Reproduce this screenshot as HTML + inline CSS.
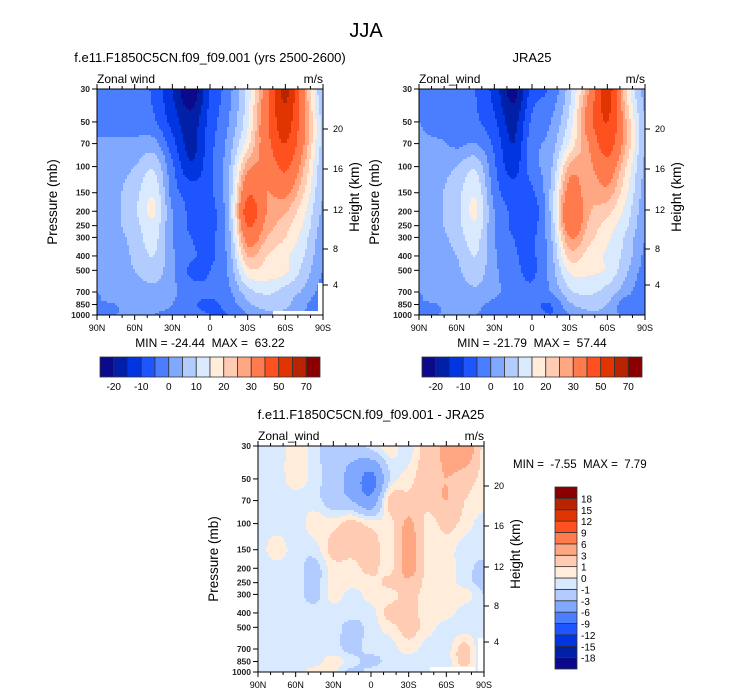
<!DOCTYPE html>
<html><head><meta charset="utf-8">
<style>
html,body{margin:0;padding:0;background:#fff;}
svg{display:block;font-family:"Liberation Sans",Arial,sans-serif;}
text{white-space:pre;}
</style></head>
<body>
<svg id="fig" width="733" height="696" viewBox="0 0 733 696" xmlns="http://www.w3.org/2000/svg">
<text x="366" y="37" font-size="20" text-anchor="middle">JJA</text>
</svg>
<script>
// ---------- data ----------
const lats = [90, 75, 60, 45, 30, 15, 0, -15, -30, -45, -60, -75, -90];
const pressures = [30, 50, 70, 100, 150, 200, 250, 300, 400, 500, 700, 850, 1000];
const modelU = [
[-2,-2,-3,-6,-15,-24,-10,-2,12,35,63,30,5],
[-3,-2,-2,-4,-12,-18,-8,0,14,38,55,32,8],
[1,1,1,2,-8,-17,-7,2,18,36,50,30,8],
[2,3,5,9,-4,-14,-6,4,28,32,42,25,6],
[2,4,8,14,-2,-7,-6,5,38,30,32,20,5],
[2,4,9,16,0,-6,-7,5,45,30,26,16,4],
[2,4,8,13,0,-6,-7,4,40,28,22,14,3],
[1,3,7,12,0,-5,-6,3,34,25,20,12,2],
[1,2,6,10,1,-4,-6,2,25,20,16,10,1],
[1,2,5,8,1,-6,-5,1,18,18,16,8,0],
[0,1,2,3,1,-3,-4,-1,8,11,8,4,-2],
[0,0,1,1,0,-4,-6,-3,4,7,6,1,-4],
[0,0,0,0,-1,-3,-5,-5,0,4,4,0,-3]];
const jraU = [
[-2,-2,-3,-5,-12,-22,-8,-4,8,30,55,20,3],
[0,-3,-3,-4,-9,-17,-4,0,12,35,50,25,5],
[1,1,-1,0,-6,-15,-2,2,16,30,45,25,5],
[2,3,5,9,-4,-12,-2,4,26,28,36,20,4],
[2,4,8,14,-2,-8,-6,6,34,26,28,16,3],
[2,4,8,16,0,-6,-8,6,38,26,22,13,2],
[2,4,8,14,0,-6,-7,5,36,24,18,11,1],
[1,3,7,12,0,-5,-6,4,30,22,16,9,0],
[1,2,5,10,1,-4,-6,3,22,18,14,8,-1],
[1,2,4,8,1,-3,-6,2,16,16,14,6,-2],
[0,1,2,4,1,-2,-4,0,9,11,8,2,-4],
[0,0,1,1,-1,-2,-4,-5,4,7,5,-3,-2],
[0,0,0,0,-1,-2,-2,-5,0,4,3,-2,-3]];
const diffU = [
[-0.5,-0.5,0.5,-0.5,-2,-2,-0.5,0.5,-0.5,2,3.5,5,0.5],
[-0.5,-0.5,0.5,-0.5,-2,-4,-7,-1,0.5,2,3,2,0.5],
[-0.5,-0.5,-0.5,-0.5,-2,-3,-5,1.5,1.5,1.5,3,1,0.5],
[-0.5,-0.5,-0.5,0.5,0.5,1.5,0.5,0.5,3.5,0.5,1.5,0.5,-0.5],
[-0.5,0.5,-0.5,-0.5,1.5,1.5,1.8,0.5,4,0.5,0.5,-0.5,-0.5],
[-0.5,-0.5,-0.5,-1.5,0.5,0.5,1.5,0.5,4,0.5,0.5,-0.5,-1.5],
[-0.5,-0.5,-0.5,-1.5,0.5,0.5,0.5,1.5,2.5,0.5,0.5,-0.5,-1.5],
[-0.5,-0.5,-0.5,-1.5,0.5,-0.5,0.5,0.5,1.5,0.5,0.5,0.5,-1],
[-0.5,-0.5,-0.5,-0.5,-0.5,-0.5,-0.5,1.5,1.5,0.5,0.5,-0.5,-0.5],
[-0.5,-0.5,-0.5,-0.5,-0.5,-1.5,-0.5,0.5,1.5,0.5,-0.5,-0.5,-0.5],
[-0.5,-0.5,-0.5,-0.5,-0.5,-1.5,-0.5,-0.5,0.5,-0.5,-0.5,1.5,-1.5],
[-0.5,-0.5,-0.5,-0.5,0.5,-0.5,-1.5,-0.5,-0.5,-0.5,-0.5,1.5,-1.5],
[-0.5,-0.5,-0.5,0.5,0.3,-1.5,-0.5,-0.5,-0.5,-0.5,-0.5,0.5,-0.5]];
const levels = [-20,-15,-10,-5,0,5,10,15,20,25,30,40,50,60,70];
const levelLabels = ["-20","-10","0","10","20","30","50","70"];
const diffLevels = [-18,-15,-12,-9,-6,-3,-1,0,1,3,6,9,12,15,18];
const pressureTicks = [30,50,70,100,150,200,250,300,400,500,700,850,1000];
const heightTicks = [20,16,12,8,4];
const latTicks = [90,60,30,0,-30,-60,-90];
const latTickLabels = ["90N","60N","30N","0","30S","60S","90S"];
const palette = ["#0a0a8a","#0020a8","#0035e0","#1e55ff","#4a7eff","#80a8ff","#b3ccff","#d9eaff","#ffecda","#ffcbb3","#ffa682","#ff7a4d","#ff5020","#e03500","#b82400","#8a0000"];

const NS = "http://www.w3.org/2000/svg";
const svg = document.getElementById('fig');
function mk(tag, attrs, parent){const e=document.createElementNS(NS,tag);for(const k in attrs)e.setAttribute(k,attrs[k]);(parent||svg).appendChild(e);return e;}
function txt(s, attrs, parent){const e=mk('text',attrs,parent);e.textContent=s;return e;}

const LP = Math.log(1000/30);
const heightFrac = {20:40/226,16:80/226,12:121/226,8:160/226,4:196/226};

function binOf(v, lv){let b=0;for(let k=0;k<lv.length;k++){if(v>=lv[k])b=k+1;}return b;}
function cr(p0,p1,p2,p3,t){return 0.5*((2*p1)+(-p0+p2)*t+(2*p0-5*p1+4*p2-p3)*t*t+(-p0+3*p1-3*p2+p3)*t*t*t);}
function sample(grid, lat, p){
  let i=0; while(i<lats.length-2 && lat<lats[i+1]) i++;
  const fx=(lats[i]-lat)/(lats[i]-lats[i+1]);
  const lp=Math.log(p);
  let j=0; while(j<pressures.length-2 && p>pressures[j+1]) j++;
  const fy=(lp-Math.log(pressures[j]))/(Math.log(pressures[j+1])-Math.log(pressures[j]));
  const nc=lats.length, nr=pressures.length;
  const ci=k=>Math.max(0,Math.min(nc-1,k)), rj=k=>Math.max(0,Math.min(nr-1,k));
  const row=r=>cr(grid[r][ci(i-1)],grid[r][ci(i)],grid[r][ci(i+1)],grid[r][ci(i+2)],fx);
  return cr(row(rj(j-1)),row(rj(j)),row(rj(j+1)),row(rj(j+2)),fy);
}

function panel(opt){
  const {x0,y0,w,h,grid,lv,name}=opt;
  const g=mk('g',{});  
  const xs=lat=>x0+(90-lat)/180*w;
  const ys=p=>y0+Math.log(p/30)/LP*h;
  const fg=mk('g',{},g);  
  const cs=2;
  for(let py=0;py<h;py+=cs){
    const p=30*Math.exp((py+cs/2)/h*LP);
    let runStart=0, runBin=-1;
    const cols=Math.ceil(w/cs);
    for(let k=0;k<=cols;k++){
      let b=-2;
      if(k<cols){const lat=90-((k+0.5)*cs)/w*180; b=binOf(sample(grid,lat,p),lv);}
      if(b!==runBin){
        if(runBin>=0){
          const r=mk('rect',{x:x0+runStart*cs,y:y0+py,width:Math.min((k-runStart)*cs,w-runStart*cs)+0.5,height:Math.min(cs,h-py)+0.5,fill:palette[runBin]},fg);
          
          
        }
        runStart=k; runBin=b;
      }
    }
  }
  if(opt.mask){opt.mask.forEach(m=>{const r=mk('rect',{x:m[0],y:m[1],width:m[2],height:m[3],fill:'#fff'},g);});}
  const fr=mk('rect',{x:x0,y:y0,width:w,height:h,fill:'none',stroke:'#000','stroke-width':1},g);
   
  for(let lat=90;lat>=-90;lat-=10){
    const major=(lat%30===0); const L=major?5:3; const x=xs(lat);
    mk('line',{x1:x,y1:y0+h,x2:x,y2:y0+h+L,stroke:'#000','stroke-width':1},g);
    mk('line',{x1:x,y1:y0,x2:x,y2:y0-L,stroke:'#000','stroke-width':1},g);
  }
  latTicks.forEach((lat,k)=>{const t=txt(latTickLabels[k],{x:xs(lat),y:y0+h+16,'font-size':9,'text-anchor':'middle'},g);});
  pressureTicks.forEach(p=>{const y=ys(p);mk('line',{x1:x0-5,y1:y,x2:x0,y2:y,stroke:'#000'},g);
    const t=txt(String(p),{x:x0-7,y:y+3,'font-size':8.5,'text-anchor':'end','font-weight':'bold',fill:'#222'},g);});
  heightTicks.forEach(hk=>{const y=y0+heightFrac[hk]*h;mk('line',{x1:x0+w,y1:y,x2:x0+w+5,y2:y,stroke:'#000'},g);
    const t=txt(String(hk),{x:x0+w+10,y:y+3,'font-size':9},g);});
  let t=txt('Pressure (mb)',{x:0,y:0,'font-size':13.5,'text-anchor':'middle',transform:`translate(${x0-40},${y0+h/2}) rotate(-90)`},g);
   
  t=txt('Height (km)',{x:0,y:0,'font-size':13.5,'text-anchor':'middle',transform:`translate(${x0+w+36},${y0+h/2-5}) rotate(-90)`},g);
   
  t=txt(opt.varname,{x:x0,y:y0-6,'font-size':12},g);  
  t=txt('m/s',{x:x0+w,y:y0-6,'font-size':12,'text-anchor':'end'},g);  
  t=txt(opt.title,{x:opt.titleX,y:y0-27,'font-size':13,'text-anchor':'middle'},g);  
  if(opt.minmax){t=txt(opt.minmax,{x:x0+w/2,y:y0+h+32,'font-size':12,'text-anchor':'middle'},g);}
}

function hColorbar(x0,y0,w,h){
  const g=mk('g',{});  
  const n=palette.length, bw=w/n;
  palette.forEach((c,k)=>{const r=mk('rect',{x:x0+k*bw,y:y0,width:bw,height:h,fill:c,stroke:'#333','stroke-width':0.8},g);});
  levelLabels.forEach((s,k)=>{const t=txt(s,{x:x0+(2*k+1)*bw,y:y0+h+13,'font-size':10,'text-anchor':'middle'},g);});
}
function vColorbar(x0,y0,w,h){
  const g=mk('g',{});  
  const n=palette.length, bh=h/n;
  palette.forEach((c,k)=>{const r=mk('rect',{x:x0,y:y0+h-(k+1)*bh,width:w,height:bh,fill:c,stroke:'#333','stroke-width':0.8},g);});
  diffLevels.forEach((v,k)=>{const t=txt(String(v),{x:x0+w+4,y:y0+h-(k+1)*bh+4,'font-size':10},g);});
}

panel({x0:97,y0:89,w:226,h:226,grid:modelU,lv:levels,name:'model',varname:'Zonal wind',title:'f.e11.F1850C5CN.f09_f09.001 (yrs 2500-2600)',titleX:210,minmax:'MIN = -24.44  MAX =  63.22',
  mask:[[273,311,46,4],[318,283,5,32]]});
panel({x0:419,y0:89,w:226,h:226,grid:jraU,lv:levels,name:'jra25',varname:'Zonal_wind',title:'JRA25',titleX:532,minmax:'MIN = -21.79  MAX =  57.44'});
panel({x0:258,y0:446,w:226,h:226,grid:diffU,lv:diffLevels,name:'difference',varname:'Zonal_wind',title:'f.e11.F1850C5CN.f09_f09.001 - JRA25',titleX:371,
  mask:[[430,667,45,5],[478,638,6,34]]});
hColorbar(100,357,220,20);
hColorbar(422,357,220,20);
vColorbar(555,487,22,182);
let mm=txt('MIN =  -7.55  MAX =  7.79',{x:513,y:468,'font-size':11.5});


</script>
</body></html>
